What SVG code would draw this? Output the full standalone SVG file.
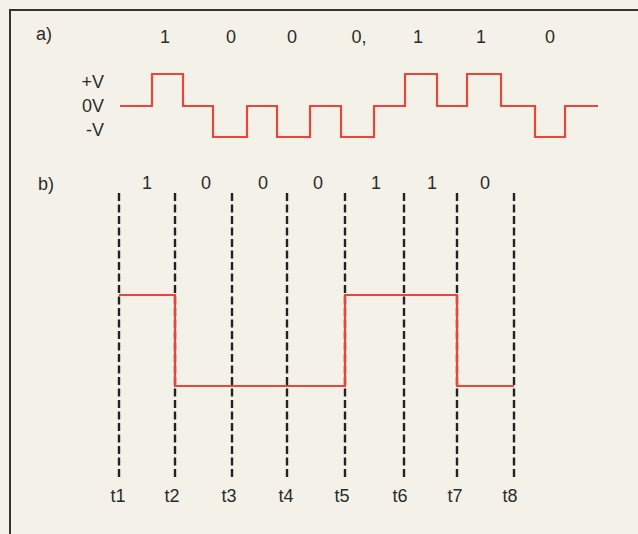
<svg xmlns="http://www.w3.org/2000/svg" width="638" height="534" viewBox="0 0 638 534">
<style>
text{font-family:"Liberation Sans",Arial,sans-serif;font-size:18px;fill:#2b2b2b}
.c{text-anchor:middle}
.r{text-anchor:end}
.wave{fill:none;stroke:#e8453c;stroke-width:2.2;stroke-linejoin:miter}
.dash{stroke:#222;stroke-width:2.4;stroke-dasharray:8 3.5}
</style>
<rect width="638" height="534" fill="#f4f2e8"/>
<path d="M10 534V10H650" fill="none" stroke="#333" stroke-width="2"/>
<g id="part-a">
<text x="36" y="40">a)</text>
<g id="a-bits">
<text class="c" x="165" y="43">1</text>
<text class="c" x="231" y="43">0</text>
<text class="c" x="292" y="43">0</text>
<text class="c" x="359" y="43">0,</text>
<text class="c" x="418" y="43">1</text>
<text class="c" x="481" y="43">1</text>
<text class="c" x="550" y="43">0</text>
</g>
<g id="a-levels">
<text class="r" x="104" y="88">+V</text>
<text class="r" x="104" y="112">0V</text>
<text class="r" x="104" y="136">-V</text>
</g>
<path id="a-wave" class="wave" d="M120 106H152V74H183V106H213V137H247V106H277V137H310V106H341V137H374V106H405V74H437V106H467V74H501V106H535V137H565V106H598"/>
</g>
<g id="part-b">
<text x="38" y="190">b)</text>
<g id="b-bits">
<text class="c" x="147" y="189">1</text>
<text class="c" x="206" y="189">0</text>
<text class="c" x="263" y="189">0</text>
<text class="c" x="318" y="189">0</text>
<text class="c" x="376" y="189">1</text>
<text class="c" x="432" y="189">1</text>
<text class="c" x="485" y="189">0</text>
</g>
<g id="connectors">
<line class="dash" x1="119" y1="193" x2="119" y2="478"/>
<line class="dash" x1="175" y1="193" x2="175" y2="478"/>
<line class="dash" x1="232" y1="193" x2="232" y2="478"/>
<line class="dash" x1="287" y1="193" x2="287" y2="478"/>
<line class="dash" x1="345" y1="193" x2="345" y2="478"/>
<line class="dash" x1="404" y1="193" x2="404" y2="478"/>
<line class="dash" x1="457" y1="193" x2="457" y2="478"/>
<line class="dash" x1="514" y1="193" x2="514" y2="478"/>
</g>
<path id="b-wave" class="wave" d="M119 295H175V386H345V295H457V386H514"/>
<g id="t-labels">
<text class="c" x="118" y="502">t1</text>
<text class="c" x="172" y="502">t2</text>
<text class="c" x="229" y="502">t3</text>
<text class="c" x="286" y="502">t4</text>
<text class="c" x="342" y="502">t5</text>
<text class="c" x="400" y="502">t6</text>
<text class="c" x="455" y="502">t7</text>
<text class="c" x="510" y="502">t8</text>
</g>
</g>
</svg>
